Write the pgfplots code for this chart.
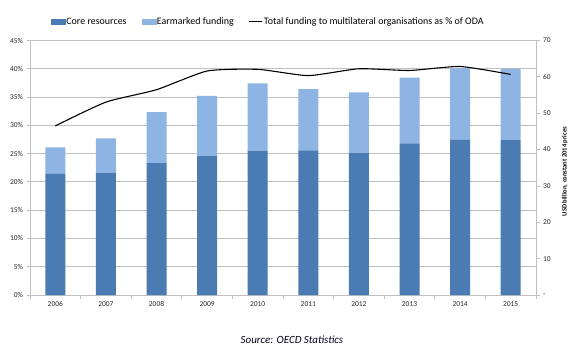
\documentclass[border=0pt]{standalone}
\usepackage{pgfplots}
\pgfplotsset{compat=1.18}
\usepackage{fontspec}
\setmainfont{Carlito}
\definecolor{core}{HTML}{4A7BB3}
\definecolor{earm}{HTML}{8EB4E3}
\definecolor{gridc}{HTML}{BFBFBF}

\pgfplotstableread{
x core earm pct
0 33.3 7.3 29.9
1 33.55 9.55 34.1
2 36.3 14.0 36.3
3 38.2 16.6 39.6
4 39.7 18.5 39.9
5 39.8 16.85 38.8
6 39.05 16.7 40.0
7 41.7 18.1 39.7
8 42.7 19.65 40.4
9 42.6 19.6 39.0
}\datatable

\begin{document}
\begin{tikzpicture}[x=1bp,y=1bp]
\useasboundingbox (0,0) rectangle (578,363);
\pgfplotsset{
  base/.style={
    at={(30bp,68bp)}, anchor=south west,
    width=506bp, height=254.5bp, scale only axis,
    xmin=-0.5, xmax=9.5,
    tick label style={font=\fontsize{7.5}{9}\selectfont, text=black!85},
    /pgf/number format/assume math mode=true,
    axis line style={gridc, line width=0.8bp},
    tick style={gridc, line width=0.8bp},
    tick align=outside,
  }}
% grid + left axis + x axis
\begin{axis}[base,
  ymin=0, ymax=45,
  axis x line*=bottom, axis y line*=left,
  ytick={0,5,...,45},
  yticklabels={0\%,5\%,10\%,15\%,20\%,25\%,30\%,35\%,40\%,45\%},
  ymajorgrids, grid style={gridc, line width=0.8bp},
  major tick length=3.5bp,
  xtick={-0.5,0.5,...,9.5},
  xticklabels={},
  extra x ticks={0,1,...,9},
  extra x tick labels={2006,2007,2008,2009,2010,2011,2012,2013,2014,2015},
  extra x tick style={major tick length=0pt, xticklabel style={yshift=-3bp}},
]
\addplot[draw=none] coordinates {(0,0)};
\end{axis}
% bars + right axis
\begin{axis}[base,
  ymin=0, ymax=70,
  axis y line*=right, axis x line=none,
  ytick={0,10,...,70},
  yticklabels={-,10,20,30,40,50,60,70},
  major tick length=3.5bp,
  ybar stacked, bar width=20bp,
  ylabel={\textbf{USD billion, constant 2014 prices}},
  ylabel style={font=\fontsize{6.6}{8}\selectfont, at={(axis description cs:1.057,0.485)}, anchor=center},
]
\addplot[fill=core, draw=none] table[x=x, y=core] {\datatable};
\addplot[fill=earm, draw=none] table[x=x, y=earm] {\datatable};
\end{axis}
% line + legend
\begin{axis}[base,
  ymin=0, ymax=45, hide axis,
  legend columns=3,
  legend style={at={(0.47,1.073)}, anchor=center, draw=none, fill=none,
    font=\fontsize{10}{12}\selectfont,
    nodes={inner xsep=1bp, inner ysep=1bp},
    /tikz/every even column/.append style={column sep=14bp}},
]
\addlegendimage{legend image code/.code={\fill[core] (0bp,-2.5bp) rectangle (14bp,3bp);}}
\addlegendentry{Core resources}
\addlegendimage{legend image code/.code={\fill[earm] (0bp,-2.5bp) rectangle (14bp,3bp);}}
\addlegendentry{Earmarked funding}
\addplot[black, line width=1.1bp, smooth, tension=0.35,
  legend image code/.code={\draw[black, line width=1.1bp] (0bp,0bp) -- (13bp,0bp);}]
  table[x=x, y=pct] {\datatable};
\addlegendentry{Total funding to multilateral organisations as \% of ODA}
\end{axis}
\node[font=\fontsize{11}{13}\selectfont\itshape, text=black!90!blue] at (292,23) {Source: OECD Statistics};
\end{tikzpicture}
\end{document}
